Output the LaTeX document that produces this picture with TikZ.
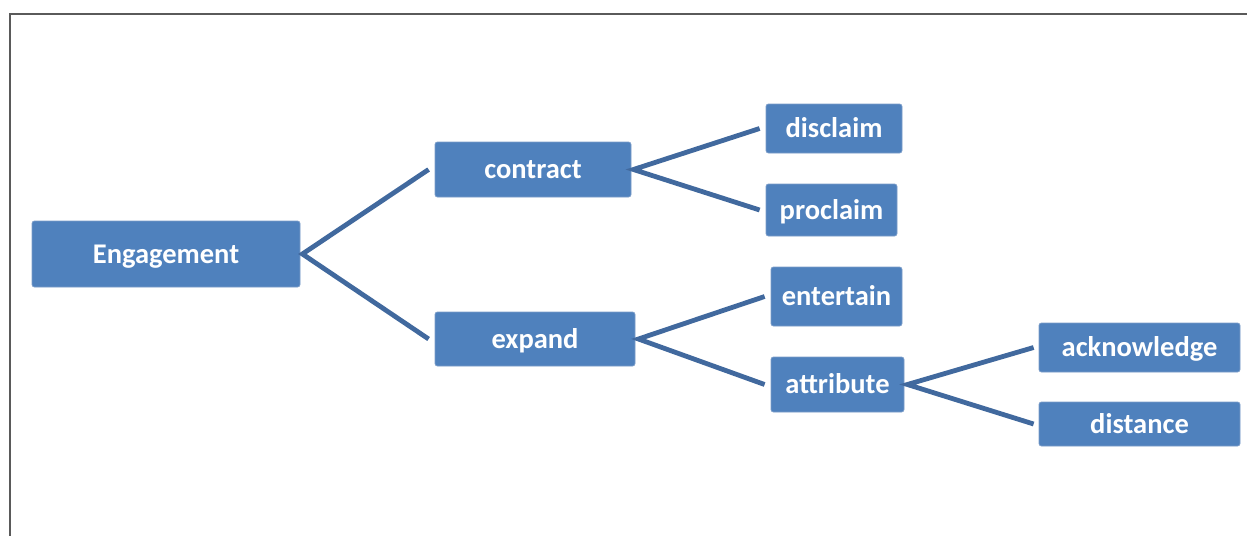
\documentclass[tikz,border=0pt]{standalone}
\usepackage{fontspec}
\setmainfont{Carlito}
\definecolor{boxfill}{HTML}{4F81BD}
\definecolor{boxedge}{HTML}{7A9CC8}
\definecolor{linkcol}{HTML}{41699E}
\definecolor{framecol}{HTML}{5A5A5A}
\begin{document}
\begin{tikzpicture}[x=1pt,y=-1pt,
  box/.style={draw=boxedge,line width=0.8pt,fill=boxfill,rounded corners=2.5pt,
    text=white,font=\fontsize{28.5}{32}\selectfont\bfseries,inner sep=0pt,
    text height=18pt,text depth=0pt,anchor=center},
  link/.style={draw=linkcol,line width=4.8pt}]
\useasboundingbox (0,0) rectangle (1247,536);
\draw[framecol,line width=2pt] (1247,14) -- (10,14) -- (10,536);
\node[box,minimum width=268pt,minimum height=66pt] (eng) at (166,254) {Engagement};
\node[box,minimum width=196pt,minimum height=55pt] (con) at (533,169.5) {contract};
\node[box,minimum width=200pt,minimum height=54pt] (exp) at (535,339) {expand};
\node[box,minimum width=136pt,minimum height=49pt] (dis) at (834,128.5) {disclaim};
\node[box,minimum width=131pt,minimum height=52pt] (pro) at (831.5,210) {proclaim};
\node[box,minimum width=131pt,minimum height=59pt] (ent) at (836.5,296.5) {entertain};
\node[box,minimum width=133pt,minimum height=55pt] (att) at (837.5,384.5) {attribute};
\node[box,minimum width=201pt,minimum height=49pt] (ack) at (1139.5,347.5) {acknowledge};
\node[box,minimum width=201pt,minimum height=44pt] (dst) at (1139.5,424) {distance};
\coordinate (eng-r) at ([xshift=2pt]eng.east);
\coordinate (con-r) at ([xshift=2pt]con.east);
\coordinate (exp-r) at ([xshift=3pt]exp.east);
\coordinate (att-r) at ([xshift=3pt]att.east);
\draw[link] ([xshift=-6pt]con.west) -- (eng-r) -- ([xshift=-6pt]exp.west);
\draw[link] ([xshift=-6pt]dis.west) -- (con-r) -- ([xshift=-6pt]pro.west);
\draw[link] ([xshift=-6pt]ent.west) -- (exp-r) -- ([xshift=-6pt]att.west);
\draw[link] ([xshift=-5pt]ack.west) -- (att-r) -- ([xshift=-5pt]dst.west);
\end{tikzpicture}
\end{document}
